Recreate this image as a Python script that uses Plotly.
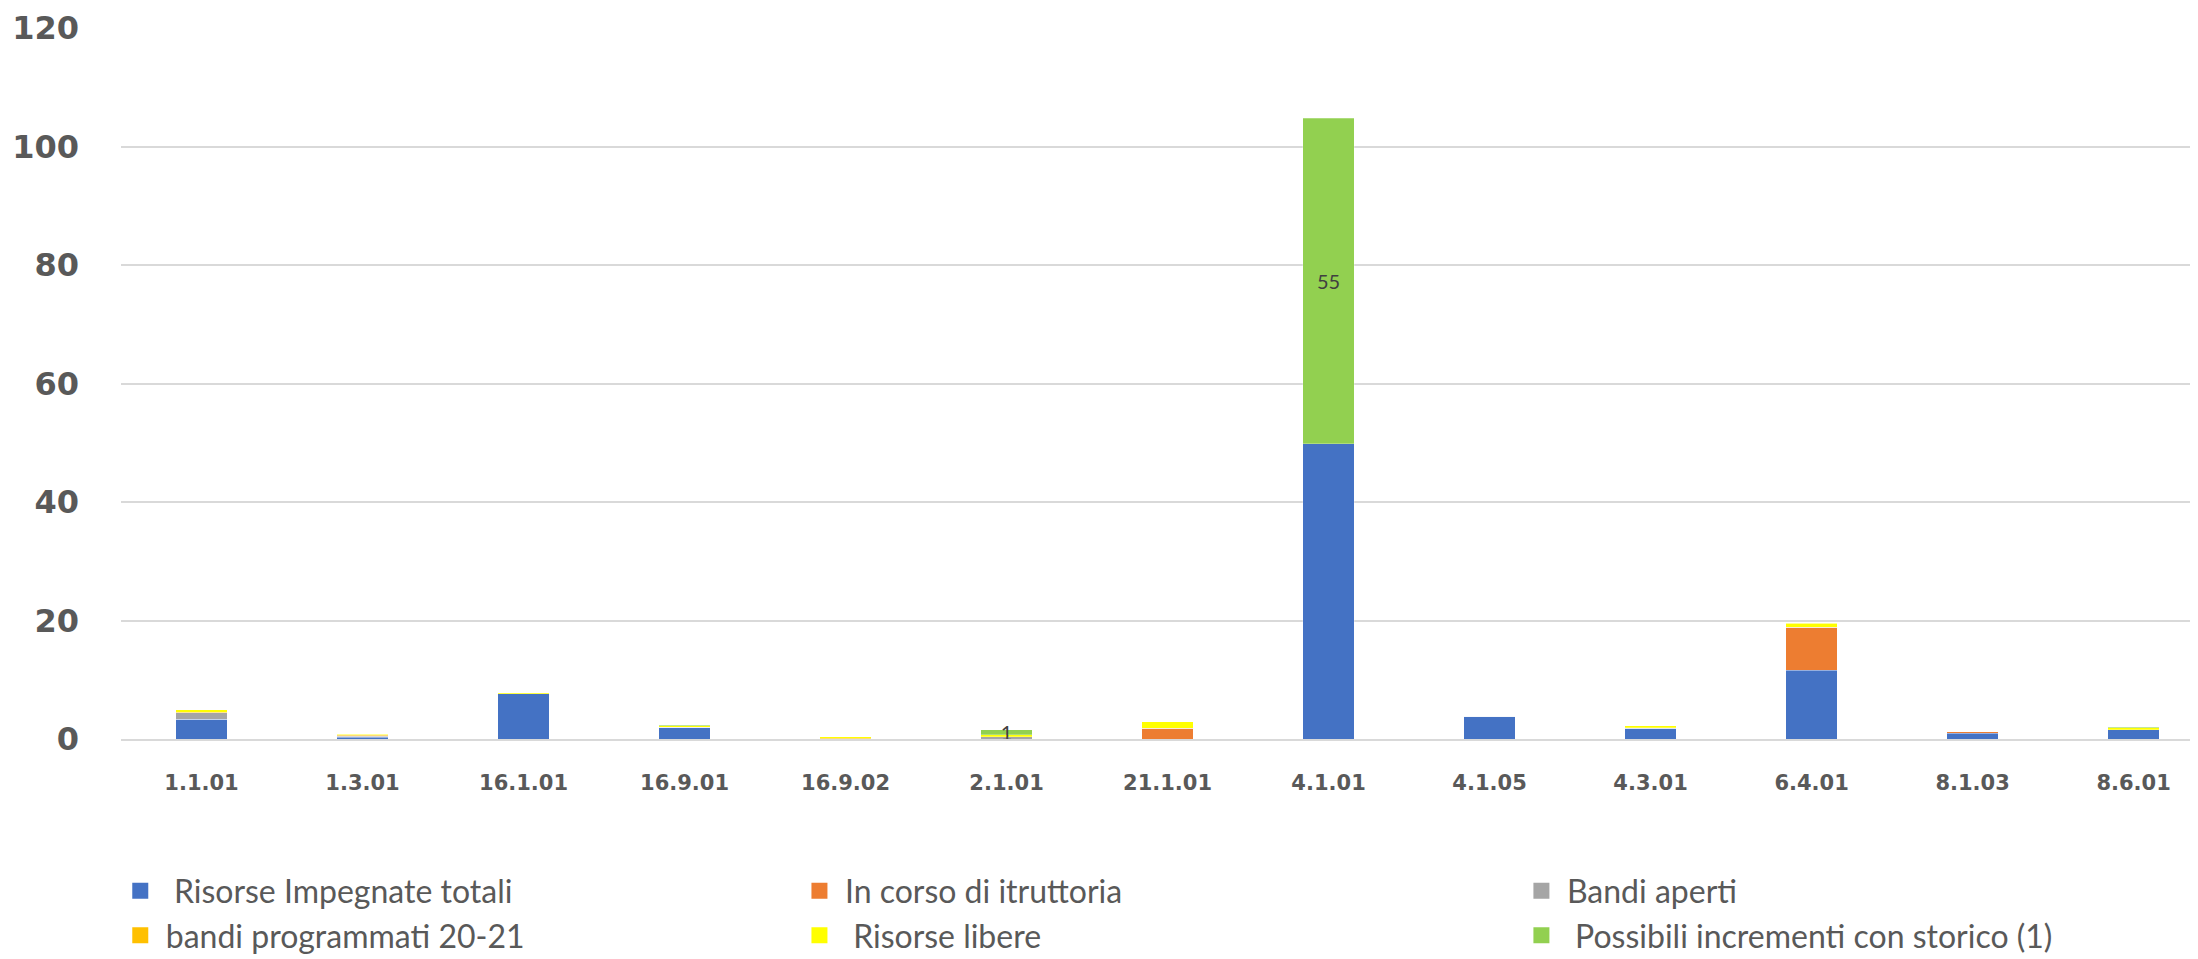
import plotly.graph_objects as go

categories = ["1.1.01", "1.3.01", "16.1.01", "16.9.01", "16.9.02", "2.1.01", "21.1.01",
              "4.1.01", "4.1.05", "4.3.01", "6.4.01", "8.1.03", "8.6.01"]

risorse_impegnate = [3.3, 0.3, 7.6, 2.0, 0.0, 0.0, 0.0, 49.8, 3.8, 1.8, 11.6, 0.95, 1.6]
in_corso = [0.0, 0.1, 0.0, 0.0, 0.0, 0.0, 1.8, 0.0, 0.0, 0.0, 7.3, 0.3, 0.0]
bandi_aperti = [1.1, 0.1, 0.0, 0.0, 0.0, 0.4, 0.0, 0.0, 0.0, 0.0, 0.0, 0.0, 0.0]
bandi_programmati = [0.1, 0.1, 0.0, 0.0, 0.1, 0.0, 0.0, 0.0, 0.0, 0.1, 0.0, 0.0, 0.0]
risorse_libere = [0.4, 0.2, 0.2, 0.2, 0.3, 0.3, 1.1, 0.0, 0.0, 0.3, 0.6, 0.0, 0.3]
possibili_incrementi = [0.0, 0.0, 0.0, 0.1, 0.0, 0.9, 0.0, 55.0, 0.0, 0.0, 0.0, 0.0, 0.1]

series = [
    ("\u00a0Risorse Impegnate totali", risorse_impegnate, "#4472C4", "legend"),
    ("In corso di itruttoria", in_corso, "#ED7D31", "legend2"),
    ("Bandi aperti", bandi_aperti, "#A5A5A5", "legend3"),
    ("bandi programmati 20-21", bandi_programmati, "#FFC000", "legend"),
    ("\u00a0Risorse libere", risorse_libere, "#FFFF00", "legend2"),
    ("\u00a0Possibili incrementi con storico (1)", possibili_incrementi, "#92D050", "legend3"),
]

fig = go.Figure()
for i, (name, vals, color, leg) in enumerate(series):
    is_green = color == "#92D050"
    text = [f"{v:.0f}" if (is_green and v >= 0.5) else "" for v in vals]
    fig.add_trace(go.Bar(
        x=categories, y=vals, name=name,
        marker=dict(color=color, line=dict(color="rgba(255,255,255,0.5)", width=0.5)),
        text=text, textposition="inside", insidetextanchor="middle", textangle=0,
        textfont=dict(family="Lato", size=20, color="#404040"),
        showlegend=False, cliponaxis=False,
    ))
    fig.add_trace(go.Scatter(
        x=[None], y=[None], mode="markers", name=name,
        marker=dict(symbol="square", size=16, color=color),
        legend=leg, showlegend=True,
    ))

legend_common = dict(
    font=dict(family="Lato", size=32, color="#595959"),
    orientation="v", xanchor="left", yanchor="top",
    bgcolor="rgba(0,0,0,0)", itemsizing="trace", itemwidth=41,
    tracegroupgap=0, traceorder="normal",
)

fig.update_layout(
    width=2190, height=951,
    margin=dict(l=113, r=0, t=20, b=220, autoexpand=False),
    paper_bgcolor="white", plot_bgcolor="white",
    barmode="stack", bargap=0.68,
    uniformtext=dict(minsize=20, mode="show"),
    xaxis=dict(
        type="category", range=[-0.5, 12.4], automargin=False,
        tickfont=dict(family="DejaVu Sans", size=21, color="#595959", weight="bold"),
        showgrid=False, showline=True, linecolor="#D9D9D9", linewidth=2,
        ticks="", ticklabelstandoff=24,
    ),
    yaxis=dict(
        range=[0, 120], tickvals=[0, 20, 40, 60, 80, 100, 120], automargin=False,
        tickfont=dict(family="DejaVu Sans", size=32, color="#595959", weight="bold"),
        showgrid=True, gridcolor="#D9D9D9", gridwidth=2,
        zeroline=False, showline=False, ticks="", ticklabelstandoff=41,
    ),
    legend=dict(x=-0.003, y=-0.175, **legend_common),
    legend2=dict(x=0.324, y=-0.175, **legend_common),
    legend3=dict(x=0.6716, y=-0.175, **legend_common),
)

fig.write_html("out.html")
